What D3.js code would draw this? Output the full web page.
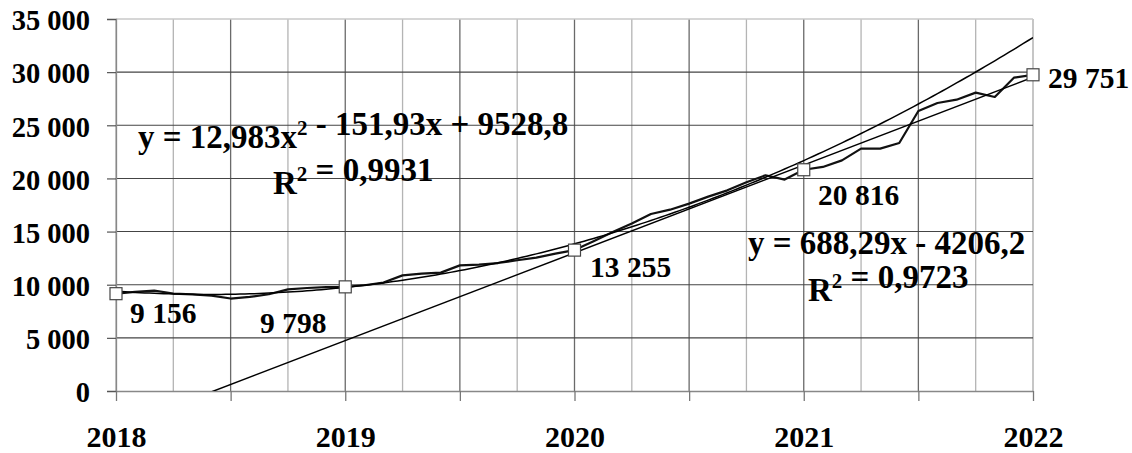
<!DOCTYPE html>
<html>
<head>
<meta charset="utf-8">
<script src="https://cdn.jsdelivr.net/npm/d3@7"></script>
<style>
  html, body { margin: 0; padding: 0; background: #fff; }
  svg { display: block; }
  text { font-family: "Liberation Serif", "Times New Roman", serif; font-weight: bold; fill: #000; }
</style>
</head>
<body>
<svg id="chart" width="1132" height="453"></svg>
<script>
// Monthly values, January 2018 through January 2022
const values = [
  9156, 9320, 9450, 9170, 9100, 8980, 8700, 8850, 9100, 9560, 9690, 9780,
  9798, 9950, 10200, 10880, 11040, 11140, 11820, 11890, 12040, 12300, 12550, 12920,
  13255, 14100, 14960, 15750, 16650, 17060, 17630, 18290, 18880, 19640, 20300, 19890,
  20816, 21080, 21700, 22800, 22800, 23330, 26340, 27100, 27410, 28070, 27660, 29480,
  29751
];
const yearLabels = ["2018", "2019", "2020", "2021", "2022"];
const yearIndex = [1, 13, 25, 37, 49];          // month number of each January
const yTicks = [0, 5000, 10000, 15000, 20000, 25000, 30000, 35000];

// Trendline coefficients (x = month number starting at 1)
const polyCoef = [9528.8, -151.93, 12.983];
const linCoef = [-4206.2, 688.29];
const rSquared = ["0,9931", "0,9723"];

const svg = d3.select("#chart");
const plotL = 116, plotR = 1033, plotT = 19, plotB = 391;

const x = d3.scaleLinear().domain([1, values.length]).range([plotL, plotR]);
const y = d3.scaleLinear().domain([0, 35000]).range([plotB, plotT]);
const fmt = v => d3.format(",")(v).replace(/,/g, " ");

// Plot area clip
svg.append("clipPath").attr("id", "plot")
  .append("rect").attr("x", plotL).attr("y", plotT).attr("width", plotR - plotL).attr("height", plotB - plotT);

// Vertical gridlines every quarter; half-year lines darker
const quarterIdx = d3.range(1, values.length + 1, 3);
svg.append("g").selectAll("line").data(quarterIdx).join("line")
  .attr("x1", d => x(d)).attr("x2", d => x(d))
  .attr("y1", plotT).attr("y2", plotB)
  .attr("stroke", d => (d === 1 || d === values.length) ? "#a8a8a8" : ((d - 1) % 6 === 0 ? "#6a6a6a" : "#b4b4b4"))
  .attr("stroke-width", 1.3);

// Horizontal gridlines
svg.append("g").selectAll("line").data(yTicks.filter(v => v > 0)).join("line")
  .attr("x1", plotL).attr("x2", plotR)
  .attr("y1", d => y(d)).attr("y2", d => y(d))
  .attr("stroke", d => d === 35000 ? "#c8c8c8" : "#444")
  .attr("stroke-width", d => d === 35000 ? 1.5 : 1.1);

// Y axis
const yAxis = svg.append("g").attr("transform", `translate(${plotL},0)`)
  .call(d3.axisLeft(y).tickValues(yTicks).tickSize(9).tickPadding(17).tickFormat(fmt));
yAxis.select(".domain").attr("stroke", "#888").attr("stroke-width", 1.3);
yAxis.selectAll(".tick line").attr("stroke", "#555").attr("stroke-width", 1.2);
yAxis.selectAll(".tick text").attr("font-size", 28.5).attr("font-family", null).attr("dy", "0.38em");

// X axis
const xAxis = svg.append("g").attr("transform", `translate(0,${plotB})`)
  .call(d3.axisBottom(x).tickValues(d3.range(1, values.length + 1, 6)).tickSize(10).tickSizeOuter(0)
    .tickFormat(d => { const k = yearIndex.indexOf(d); return k >= 0 ? yearLabels[k] : ""; }).tickPadding(25));
xAxis.select(".domain").attr("stroke", "#888").attr("stroke-width", 1.3);
xAxis.selectAll(".tick line").attr("stroke", "#777").attr("stroke-width", 1.3);
xAxis.selectAll(".tick text").attr("font-size", 30).attr("font-family", null);

const plot = svg.append("g").attr("clip-path", "url(#plot)");

// Data line
const line = d3.line().x((d, i) => x(i + 1)).y(d => y(d));
plot.append("path").datum(values)
  .attr("d", line).attr("fill", "none").attr("stroke", "#111").attr("stroke-width", 2.2)
  .attr("stroke-linejoin", "round");

// Polynomial trendline
const fine = d3.range(1, values.length + 0.001, 0.25);
const poly = t => polyCoef[0] + polyCoef[1] * t + polyCoef[2] * t * t;
plot.append("path").datum(fine)
  .attr("d", d3.line().x(t => x(t)).y(t => y(poly(t))))
  .attr("fill", "none").attr("stroke", "#000").attr("stroke-width", 1.5);

// Linear trendline
const lin = t => linCoef[0] + linCoef[1] * t;
plot.append("path").datum([1, values.length])
  .attr("d", d3.line().x(t => x(t)).y(t => y(lin(t))))
  .attr("fill", "none").attr("stroke", "#000").attr("stroke-width", 1.5);

// Markers at each January
svg.append("g").selectAll("rect").data(yearIndex).join("rect")
  .attr("x", d => x(d) - 6).attr("y", d => y(values[d - 1]) - 6)
  .attr("width", 12).attr("height", 12)
  .attr("fill", "#fff").attr("stroke", "#444").attr("stroke-width", 1.2);

// Value labels
const labelPos = [[130, 323], [260, 333], [590, 277], [818, 205], [1048, 88]];
svg.append("g").selectAll("text").data(yearIndex).join("text")
  .attr("x", (d, k) => labelPos[k][0]).attr("y", (d, k) => labelPos[k][1])
  .attr("font-size", 29.5)
  .text(d => fmt(values[d - 1]));

// Trendline equations; objects with a "power" field are superscripts
function equation(xPos, yPos, parts) {
  const t = svg.append("text").attr("x", xPos).attr("y", yPos).attr("font-size", 33);
  parts.forEach(p => {
    if (typeof p === "object") {
      t.append("tspan").attr("dy", -13).attr("font-size", 21).text(p.power);
      t.append("tspan").attr("dy", 13).text("");
    } else {
      t.append("tspan").text(p);
    }
  });
  return t;
}
const c = v => String(v).replace(".", ",");
equation(138, 148, ["y = " + c(polyCoef[2]) + "x", { power: "2" },
  " - " + c(Math.abs(polyCoef[1])) + "x + " + c(polyCoef[0])]);
equation(273, 194, ["R", { power: "2" }, " = " + rSquared[0]]);
equation(748, 254, ["y = " + c(linCoef[1]) + "x - " + c(Math.abs(linCoef[0]))]);
equation(808, 301, ["R", { power: "2" }, " = " + rSquared[1]]);
</script>
</body>
</html>
